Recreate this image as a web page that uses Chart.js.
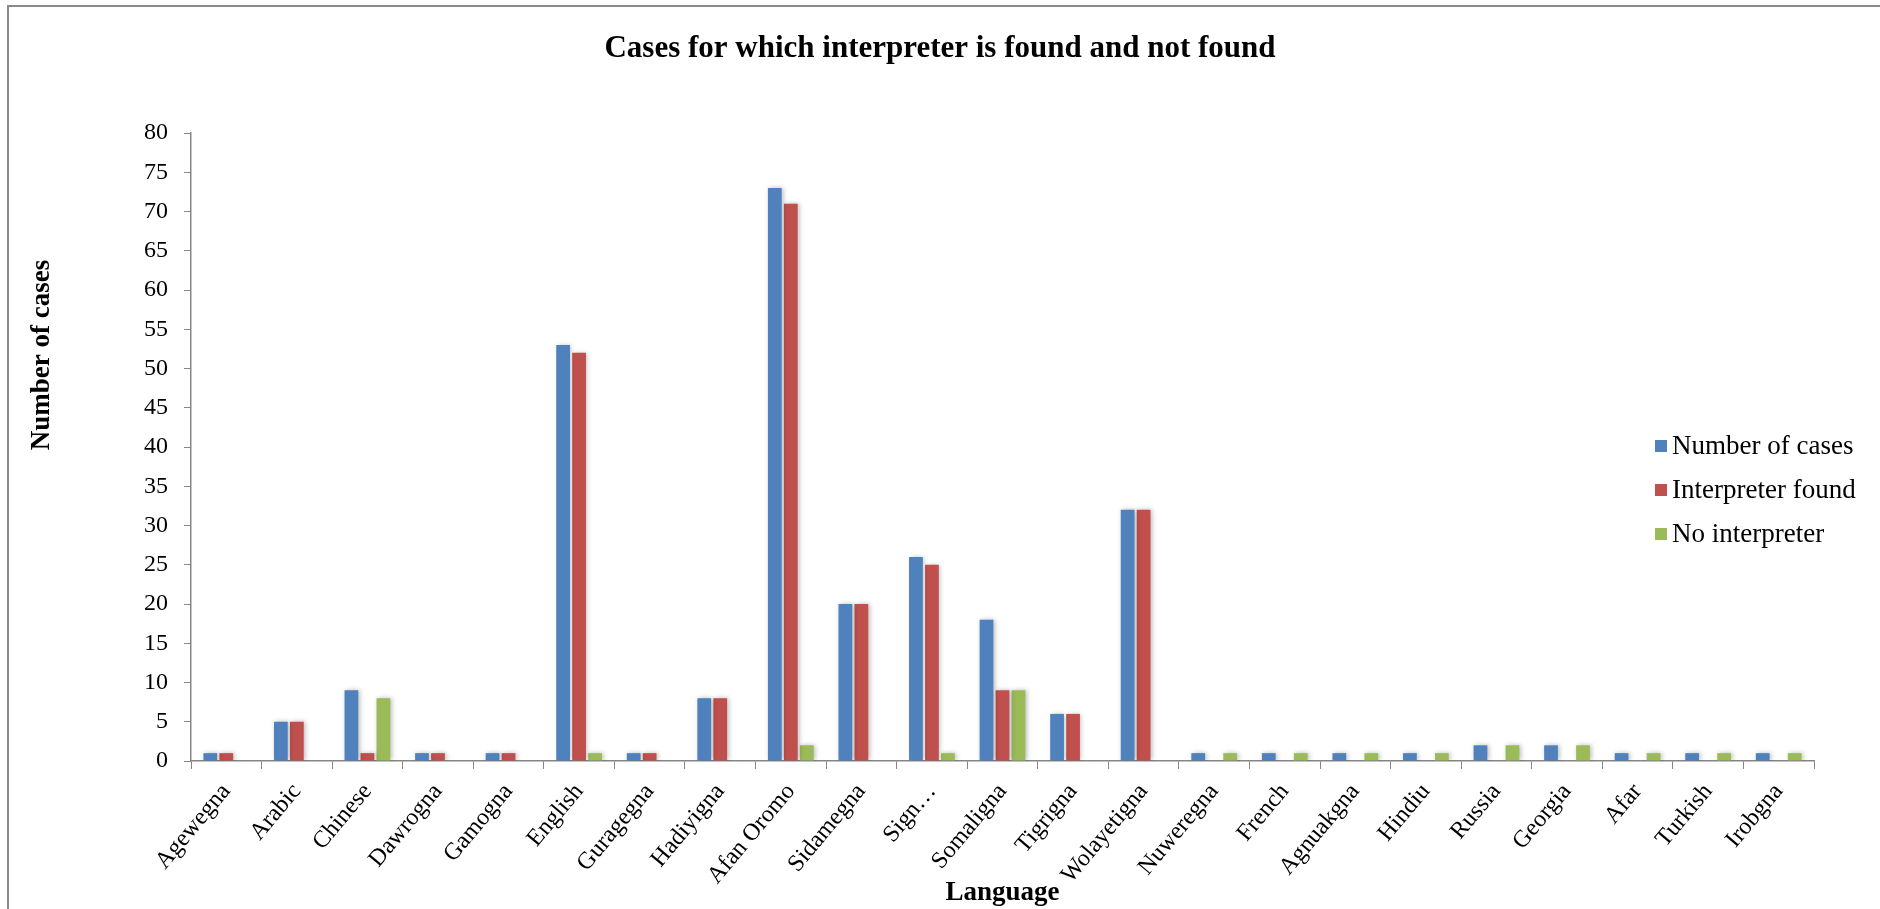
<!DOCTYPE html>
<html>
<head>
<meta charset="utf-8">
<title>Cases for which interpreter is found and not found</title>
<script src="https://cdn.jsdelivr.net/npm/chart.js@4.4.1/dist/chart.umd.min.js"></script>
<style>
  html, body { margin: 0; padding: 0; background: #ffffff; width: 1880px; height: 909px; overflow: hidden; }
  #wrap { position: relative; width: 1880px; height: 909px; }
  #frame { position: absolute; left: 7px; top: 5px; width: 1890px; height: 920px;
           border-top: 2.5px solid #8a8a8a; border-left: 2.5px solid #8a8a8a; pointer-events: none; }
  canvas { position: absolute; left: 0; top: 0; }
</style>
</head>
<body>
<div id="wrap">
  <canvas id="chart" width="1880" height="909"></canvas>
  <div id="frame"></div>
</div>
<script>
// Languages on the category axis
const languages = [
  'Agewegna', 'Arabic', 'Chinese', 'Dawrogna', 'Gamogna', 'English', 'Guragegna',
  'Hadiyigna', 'Afan Oromo', 'Sidamegna', 'Sign…', 'Somaligna', 'Tigrigna',
  'Wolayetigna', 'Nuweregna', 'French', 'Agnuakgna', 'Hindiu', 'Russia',
  'Georgia', 'Afar', 'Turkish', 'Irobgna'
];

// Series values, one entry per language
const numberOfCases    = [1, 5, 9, 1, 1, 53, 1, 8, 73, 20, 26, 18, 6, 32, 1, 1, 1, 1, 2, 2, 1, 1, 1];
const interpreterFound = [1, 5, 1, 1, 1, 52, 1, 8, 71, 20, 25, 9, 6, 32, 0, 0, 0, 0, 0, 0, 0, 0, 0];
const noInterpreter    = [0, 0, 8, 0, 0, 1, 0, 0, 2, 0, 1, 9, 0, 0, 1, 1, 1, 1, 2, 2, 1, 1, 1];

const seriesNames = ['Number of cases', 'Interpreter found', 'No interpreter'];

// Value axis range
const yMin = 0;
const yMax = 80;
const yStep = 5;

const chartTitle = 'Cases for which interpreter is found and not found';
const xAxisTitle = 'Language';
const yAxisTitle = 'Number of cases';

const SERIF = "'Liberation Serif', 'Times New Roman', serif";
const AXIS_GRAY = '#868686';

// Soft shadow behind the bars
const barShadow = {
  id: 'barShadow',
  beforeDatasetsDraw(chart) {
    const ctx = chart.ctx;
    ctx.save();
    ctx.shadowColor = 'rgba(0,0,0,0.28)';
    ctx.shadowBlur = 5;
    ctx.shadowOffsetX = 1.5;
    ctx.shadowOffsetY = 0;
  },
  afterDatasetsDraw(chart) {
    chart.ctx.restore();
  }
};

// Chart heading across the whole canvas, and the vertical axis caption
const captions = {
  id: 'captions',
  afterDraw(chart) {
    const ctx = chart.ctx;
    const area = chart.chartArea;
    ctx.save();
    ctx.fillStyle = '#000';
    ctx.textAlign = 'center';
    ctx.textBaseline = 'middle';
    ctx.font = 'bold 31px ' + SERIF;
    ctx.fillText(chartTitle, chart.width / 2, 49);

    ctx.translate(42, area.top + 222);
    ctx.rotate(-Math.PI / 2);
    ctx.font = 'bold 27px ' + SERIF;
    ctx.fillText(yAxisTitle, 0, 0);
    ctx.restore();
  }
};

// Legend drawn over the right part of the plot
const sideLegend = {
  id: 'sideLegend',
  afterDraw(chart) {
    const ctx = chart.ctx;
    const area = chart.chartArea;
    const x0 = area.right - 159;
    const y0 = area.top + 313;
    const rowGap = 44;
    ctx.save();
    ctx.font = '27px ' + SERIF;
    ctx.textBaseline = 'middle';
    ctx.textAlign = 'left';
    chart.data.datasets.forEach((ds, i) => {
      const cy = y0 + i * rowGap;
      ctx.fillStyle = ds.backgroundColor;
      ctx.fillRect(x0, cy - 6, 12, 12);
      ctx.fillStyle = '#000';
      ctx.fillText(ds.label, x0 + 17, cy + 1);
    });
    ctx.restore();
  }
};

const ctx = document.getElementById('chart').getContext('2d');
new Chart(ctx, {
  type: 'bar',
  data: {
    labels: languages,
    datasets: [
      { label: seriesNames[0], data: numberOfCases,    backgroundColor: '#4F81BD' },
      { label: seriesNames[1], data: interpreterFound, backgroundColor: '#C0504D' },
      { label: seriesNames[2], data: noInterpreter,    backgroundColor: '#9BBB59' }
    ]
  },
  options: {
    responsive: false,
    animation: false,
    devicePixelRatio: 1,
    datasets: {
      bar: { categoryPercentage: 0.68, barPercentage: 0.86, borderWidth: 0 }
    },
    layout: { padding: { top: 133, right: 66, bottom: 0, left: 0 } },
    plugins: {
      legend: { display: false },
      tooltip: { enabled: false },
      title: { display: false }
    },
    scales: {
      x: {
        grid: {
          display: true,
          drawOnChartArea: false,
          drawTicks: true,
          tickLength: 8,
          color: AXIS_GRAY,
          offset: true
        },
        border: { display: true, color: AXIS_GRAY, width: 1.5 },
        ticks: {
          color: '#000',
          font: { family: SERIF, size: 24 },
          maxRotation: 50,
          minRotation: 50,
          autoSkip: false,
          padding: 9
        },
        title: {
          display: true,
          text: xAxisTitle,
          color: '#000',
          font: { family: SERIF, size: 27, weight: 'bold', lineHeight: 1.2 },
          padding: { top: 0, bottom: 0 }
        },
        afterFit(scale) { scale.height = 148; }
      },
      y: {
        min: yMin,
        max: yMax,
        grid: {
          display: true,
          drawOnChartArea: false,
          drawTicks: true,
          tickLength: 7,
          color: AXIS_GRAY
        },
        border: { display: true, color: AXIS_GRAY, width: 1.5 },
        ticks: {
          stepSize: yStep,
          color: '#000',
          font: { family: SERIF, size: 24 },
          padding: 16
        },
        afterFit(scale) { scale.width = 191; }
      }
    }
  },
  plugins: [barShadow, captions, sideLegend]
});
</script>
</body>
</html>
